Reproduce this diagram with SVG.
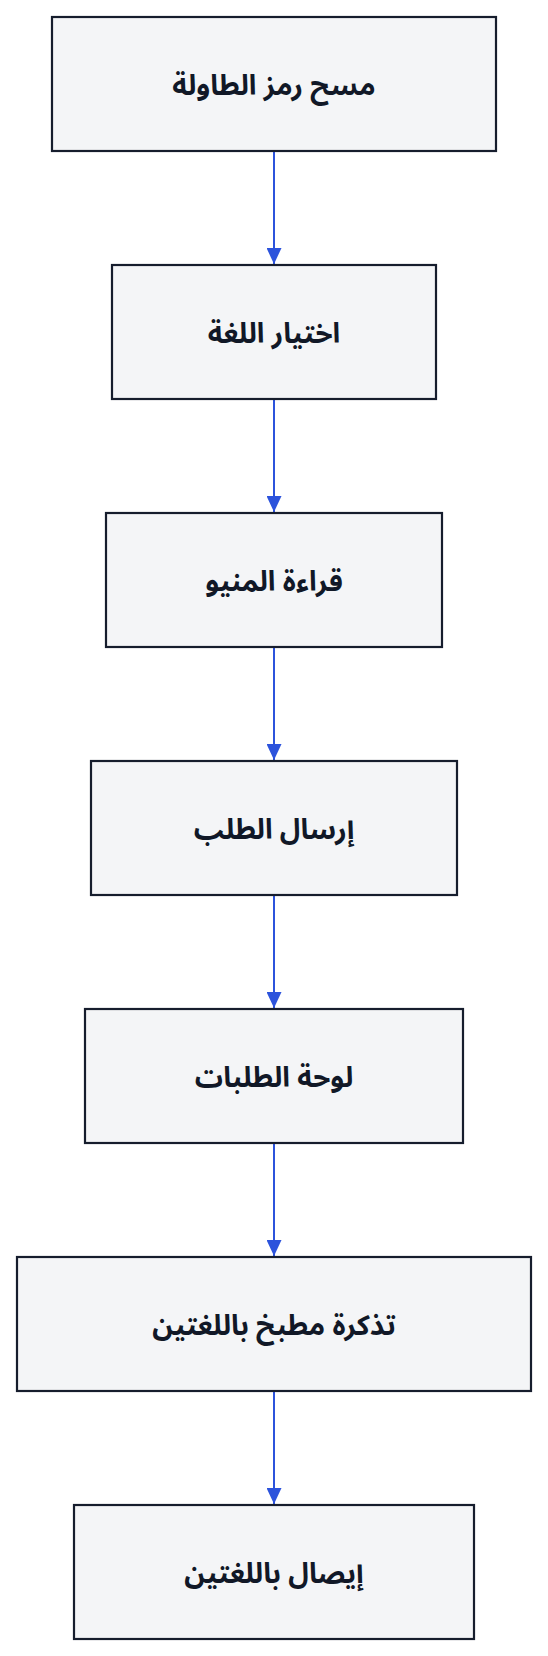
<svg xmlns="http://www.w3.org/2000/svg" width="548" height="1656" viewBox="0 0 548 1656">
<style>
.box{fill:#f4f5f7;stroke:#161d2d;stroke-width:2.2}
.lbl{font-family:"Noto Sans Arabic","Noto Sans","DejaVu Sans",sans-serif;font-weight:700;font-size:28px;fill:#111827;text-anchor:middle;dominant-baseline:central}
.edge{stroke:#2c53dc;stroke-width:2;fill:none}
</style>
<defs>
<marker id="arr" viewBox="0 0 16 15" refX="16" refY="7.5" markerWidth="16" markerHeight="15" markerUnits="userSpaceOnUse" orient="auto">
<path d="M0,0 L16,7.5 L0,15 Z" fill="#2c53dc"/>
</marker>
</defs>
<rect width="548" height="1656" fill="#ffffff"/>
<g id="connectors">
<line class="edge" x1="274" y1="152" x2="274" y2="264" marker-end="url(#arr)"/>
<line class="edge" x1="274" y1="400" x2="274" y2="512" marker-end="url(#arr)"/>
<line class="edge" x1="274" y1="648" x2="274" y2="760" marker-end="url(#arr)"/>
<line class="edge" x1="274" y1="896" x2="274" y2="1008" marker-end="url(#arr)"/>
<line class="edge" x1="274" y1="1144" x2="274" y2="1256" marker-end="url(#arr)"/>
<line class="edge" x1="274" y1="1392" x2="274" y2="1504" marker-end="url(#arr)"/>
</g>
<g id="n1"><rect class="box" x="52" y="17" width="444" height="134"/><text class="lbl" x="274" y="86" direction="rtl">مسح رمز الطاولة</text></g>
<g id="n2"><rect class="box" x="112" y="265" width="324" height="134"/><text class="lbl" x="274" y="334" direction="rtl">اختيار اللغة</text></g>
<g id="n3"><rect class="box" x="106" y="513" width="336" height="134"/><text class="lbl" x="274" y="582" direction="rtl">قراءة المنيو</text></g>
<g id="n4"><rect class="box" x="91" y="761" width="366" height="134"/><text class="lbl" x="274" y="830" direction="rtl">إرسال الطلب</text></g>
<g id="n5"><rect class="box" x="85" y="1009" width="378" height="134"/><text class="lbl" x="274" y="1078" direction="rtl">لوحة الطلبات</text></g>
<g id="n6"><rect class="box" x="17" y="1257" width="514" height="134"/><text class="lbl" x="274" y="1326" direction="rtl">تذكرة مطبخ باللغتين</text></g>
<g id="n7"><rect class="box" x="74" y="1505" width="400" height="134"/><text class="lbl" x="274" y="1574" direction="rtl">إيصال باللغتين</text></g>
</svg>
